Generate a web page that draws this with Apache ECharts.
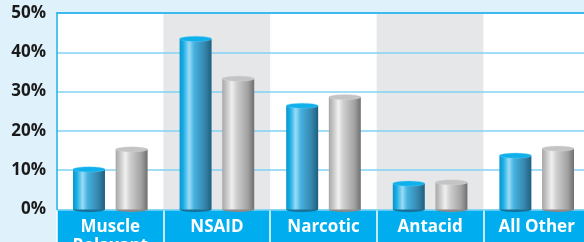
<!DOCTYPE html>
<html><head><meta charset="utf-8">
<script src="https://cdn.jsdelivr.net/npm/echarts@6/dist/echarts.min.js"></script>
<style>html,body{margin:0;padding:0;background:#dff1fb;}#c{width:584px;height:242px;}</style>
</head><body><div id="c"></div>
<script>
const categories = ['Muscle\nRelaxant', 'NSAID', 'Narcotic', 'Antacid', 'All Other'];
const blueValues = [10.2, 43.4, 26.4, 6.6, 13.7];
const grayValues = [15.3, 33.3, 28.6, 6.9, 15.5];
const yTicks = [0, 10, 20, 30, 40, 50];

const FONT = '"Open Sans", sans-serif';

function cylinder(kind, values) {
  const blue = kind === 'blue';
  const body = blue
    ? [{offset:0,color:'#0b95cc'},{offset:0.12,color:'#19aee6'},{offset:0.3,color:'#9bdcf5'},{offset:0.45,color:'#45b3e0'},{offset:0.8,color:'#3584ab'},{offset:1,color:'#1c5f80'}]
    : [{offset:0,color:'#a8a8a8'},{offset:0.12,color:'#c2c2c2'},{offset:0.3,color:'#f0f0f0'},{offset:0.45,color:'#cfcfcf'},{offset:0.8,color:'#a2a2a2'},{offset:1,color:'#6f6f6f'}];
  const topFill = blue ? '#10b0ec' : '#c4c4c4';
  const topStroke = blue ? '#6fd0f5' : '#dadada';
  const bottomFill = blue ? '#1a6f96' : '#8a8a8a';
  const sign = blue ? -1 : 1;
  return function (params, api) {
    const i = params.dataIndex;
    const v = values[i];
    const top = api.coord([i, v]);
    const base = api.coord([i, 0]);
    const band = api.size([1, 0])[0];
    const w = band * 0.30;
    const cx = top[0] + sign * band * 0.2;
    const r = w / 2, ry = 2.6;
    return {
      type: 'group',
      children: [
        { type: 'circle', shape: {cx: 0, cy: 0, r: r}, x: cx, y: base[1], scaleY: ry / r,
          style: {fill: bottomFill} },
        { type: 'rect', shape: {x: cx - r, y: top[1], width: w, height: base[1] - top[1]},
          style: {fill: {type:'linear', x:0, y:0, x2:1, y2:0, colorStops: body}} },
        { type: 'circle', shape: {cx: 0, cy: 0, r: r}, x: cx, y: top[1], scaleY: ry / r,
          style: {fill: topFill, stroke: topStroke, lineWidth: 0.6} }
      ]
    };
  };
}

const chart = echarts.init(document.getElementById('c'), null, {renderer: 'canvas'});
chart.setOption({
  backgroundColor: '#dff1fb',
  animation: false,
  grid: {left: 57, right: -6, top: 13, bottom: 32.5, containLabel: false, outerBoundsMode: 'none'},
  graphic: [
    { type: 'rect', z: -1, shape: {x: 57, y: 209.5, width: 540, height: 40}, style: {fill: '#00aeef'} }
  ],
  xAxis: [{
    type: 'category',
    data: categories,
    axisLine: {show: false},
    axisTick: {show: true, length: 34, lineStyle: {color: '#ffffff', width: 1.5}},
    axisLabel: {color: '#ffffff', fontFamily: FONT, fontWeight: 'bold', fontSize: 17, lineHeight: 19, margin: 8, interval: 0},
    splitArea: {show: true, areaStyle: {color: ['#ffffff', '#e6e7e8']}}
  }, {
    type: 'category',
    data: categories,
    position: 'top',
    z: 10,
    axisLine: {show: true, lineStyle: {color: '#1fb0ea', width: 1.5}},
    axisTick: {show: false},
    axisLabel: {show: false}
  }],
  yAxis: {
    type: 'value',
    min: yTicks[0], max: yTicks[yTicks.length - 1], interval: 10,
    z: 2,
    axisLine: {show: true, lineStyle: {color: '#1fb0ea', width: 1.5}},
    axisTick: {show: false},
    axisLabel: {formatter: '{value}%', color: '#1a1a1a', fontFamily: FONT, fontWeight: 'bold', fontSize: 17, margin: 11},
    splitLine: {lineStyle: {color: '#7fd3f3', width: 1.5}}
  },
  series: [
    { type: 'custom', z: 5, renderItem: cylinder('blue', blueValues),
      data: blueValues.map((v, i) => [i, v]), clip: false },
    { type: 'custom', z: 5, renderItem: cylinder('gray', grayValues),
      data: grayValues.map((v, i) => [i, v]), clip: false }
  ]
});
</script></body></html>
